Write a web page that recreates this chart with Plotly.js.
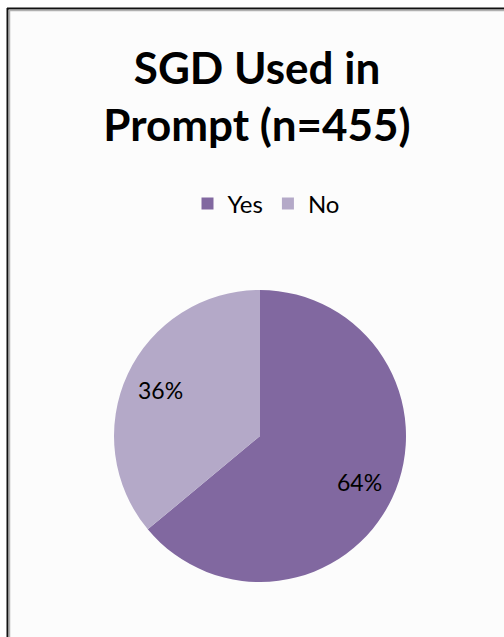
<!DOCTYPE html>
<html>
<head>
<meta charset="utf-8">
<script src="https://cdn.plot.ly/plotly-3.0.1.min.js"></script>
<style>
  html, body { margin: 0; padding: 0; background: #ffffff; }
  #chart { width: 504px; height: 637px; }
</style>
</head>
<body>
<div id="chart"></div>
<script>
const categories = ['Yes', 'No'];
const counts = [291, 164];
const colors = ['#8168a0', '#b4a9c8'];
const titleText = 'SGD Used in<br>Prompt (n=455)';

const W = 504, H = 637;
const pieCx = 260, pieCy = 436, pieR = 146;
const labelRadius = 0.75;
const FONT = 'Lato, "Open Sans", sans-serif';

const trace = {
  type: 'pie',
  labels: categories,
  values: counts,
  sort: false,
  direction: 'clockwise',
  rotation: 0,
  marker: { colors: colors, line: { width: 0 } },
  textinfo: 'none',
  hoverinfo: 'none',
  domain: { x: [(pieCx - pieR) / W, (pieCx + pieR) / W], y: [(H - pieCy - pieR) / H, (H - pieCy + pieR) / H] }
};

// percentage labels placed at each slice's mid-angle (derived from the data)
const total = counts.reduce((a, b) => a + b, 0);
let cum = 0;
const annotations = counts.map((v, i) => {
  const frac = v / total;
  const mid = (cum + frac / 2) * 2 * Math.PI;
  cum += frac;
  const px = pieCx + labelRadius * pieR * Math.sin(mid);
  const py = pieCy - labelRadius * pieR * Math.cos(mid);
  return {
    xref: 'paper', yref: 'paper',
    x: px / W, y: 1 - py / H,
    xanchor: 'center', yanchor: 'middle',
    showarrow: false,
    text: Math.round(frac * 100) + '%',
    font: { family: FONT, size: 23, color: '#000000' }
  };
});

const layout = {
  width: W,
  height: H,
  margin: { l: 0, r: 0, t: 0, b: 0 },
  paper_bgcolor: '#ffffff',
  plot_bgcolor: '#ffffff',
  title: {
    text: titleText,
    font: { family: FONT, size: 44, color: '#000000', weight: 'bold' },
    x: 257 / W, xanchor: 'center',
    y: 1 - 84 / H, yanchor: 'middle',
    xref: 'paper', yref: 'paper'
  },
  showlegend: true,
  legend: {
    orientation: 'h',
    x: 266 / W, xanchor: 'center',
    y: 1 - 204 / H, yanchor: 'middle',
    font: { family: FONT, size: 24, color: '#000000' },
    bgcolor: 'rgba(0,0,0,0)',
    traceorder: 'normal',
    itemwidth: 30
  },
  annotations: annotations,
  shapes: [
    { type: 'rect', xref: 'paper', yref: 'paper', x0: 8 / W, x1: 1.01, y0: -0.01, y1: 1 - 9 / H,
      fillcolor: '#fcfcfc', line: { width: 0 }, layer: 'below' },
    { type: 'line', xref: 'paper', yref: 'paper', x0: 7 / W, x1: 1.01, y0: 1 - 8.5 / H, y1: 1 - 8.5 / H,
      line: { color: '#111111', width: 2 } },
    { type: 'line', xref: 'paper', yref: 'paper', x0: 7.5 / W, x1: 7.5 / W, y0: 1 - 8 / H, y1: -0.01,
      line: { color: '#111111', width: 2 } },
    { type: 'line', xref: 'paper', yref: 'paper', x0: 9 / W, x1: 1.01, y0: 1 - 10.5 / H, y1: 1 - 10.5 / H,
      line: { color: '#b0b0b0', width: 1.5 } },
    { type: 'line', xref: 'paper', yref: 'paper', x0: 9.5 / W, x1: 9.5 / W, y0: 1 - 10 / H, y1: -0.01,
      line: { color: '#b0b0b0', width: 1.5 } }
  ]
};

Plotly.newPlot('chart', [trace], layout, { displayModeBar: false, staticPlot: true });
</script>
</body>
</html>
